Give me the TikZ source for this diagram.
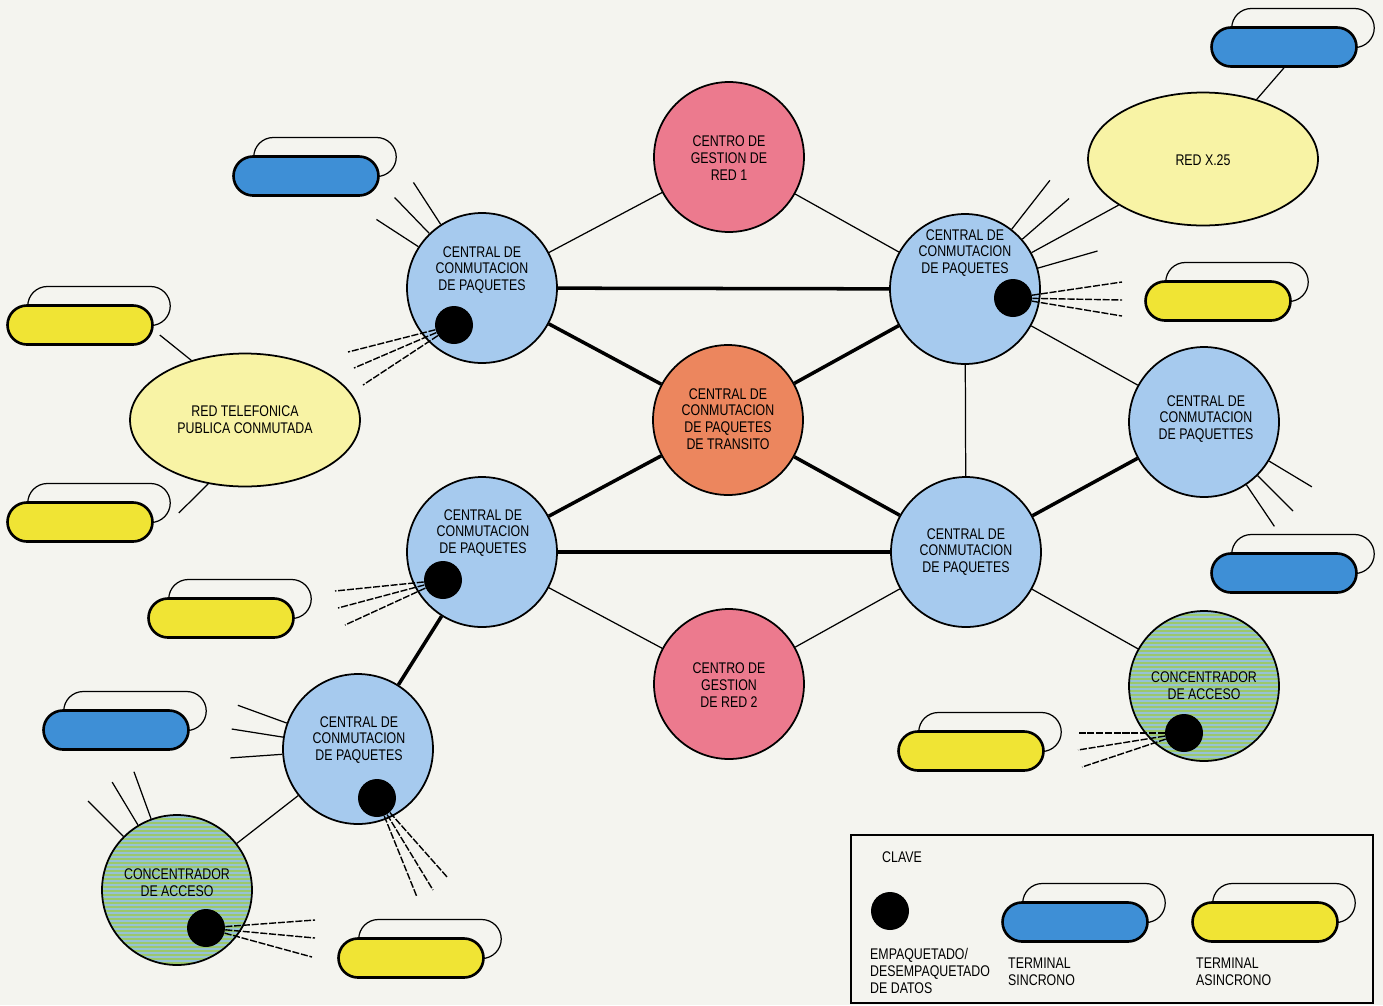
\documentclass[tikz,border=0pt]{standalone}
\usepackage{fontspec}
\setmainfont{Liberation Sans}[FakeStretch=0.8]
\usepackage{tikz}
\usetikzlibrary{shapes,positioning,calc}

\definecolor{fondo}{RGB}{244,244,239}
\definecolor{azulclaro}{RGB}{166,202,238}
\definecolor{rosa}{RGB}{236,122,142}
\definecolor{naranja}{RGB}{236,134,94}
\definecolor{amarillopal}{RGB}{248,243,165}
\definecolor{verdeazul}{RGB}{150,194,214}
\definecolor{verde}{RGB}{156,200,108}
\definecolor{azul}{RGB}{62,143,214}
\definecolor{amarillo}{RGB}{240,228,52}

\begin{document}
\begin{tikzpicture}[x=0.02cm,y=0.02cm,
    every node/.style={font=\fontsize{8.8}{9.6}\selectfont,align=center},
    nodo/.style={circle,draw,line width=1pt,minimum size=3cm,inner sep=0pt},
    central/.style={nodo,fill=azulclaro},
    gestion/.style={nodo,fill=rosa},
    transito/.style={nodo,fill=naranja},
    concentrador/.style={nodo,fill=verdeazul,
        path picture={\foreach \k in {0,...,40}
            \draw[verde,line width=1.1pt] ($(path picture bounding box.north west)+(0,-\k*4)$) -- ++(160,0);}},
    red/.style={ellipse,draw,line width=1pt,fill=amarillopal,minimum width=4.6cm,minimum height=2.66cm},
    pad/.style={circle,fill=black,minimum size=0.76cm,inner sep=0pt},
    term/.style={rounded rectangle,draw,line width=1.5pt,minimum width=2.9cm,minimum height=0.78cm,inner sep=0pt},
    termfondo/.style={rounded rectangle,draw,line width=0.7pt,fill=fondo,minimum width=2.85cm,minimum height=0.78cm,inner sep=0pt},
    enlace/.style={line width=0.7pt},
    troncal/.style={line width=2pt},
    ramal/.style={line width=0.7pt},
    ramald/.style={line width=0.8pt,dash pattern=on 4pt off 1pt}]

    \fill[fondo] (0,0) rectangle (1383,-1005);
    \useasboundingbox (0,0) rectangle (1383,-1005);

    % terminales: n / x / y / color
    \foreach \n/\x/\y/\c in {1/306/176/azul, 2/80/325/amarillo, 3/80/522/amarillo,
        4/221/618/amarillo, 5/116/730/azul, 6/411/958/amarillo, 7/1284/47/azul,
        8/1218/301/amarillo, 9/1284/573/azul, 10/971/751/amarillo,
        11/1075/922/azul, 12/1265/922/amarillo} {
        \node[termfondo] (tb\n) at (\x+19,-\y+19) {};
        \node[term,fill=\c] (t\n) at (\x,-\y) {};
    }

    % redes externas
    \node[red] (rtpc) at (245,-420) {};
    \node[red] (x25) at (1203,-159) {};

    % centrales
    \node[central] (ccpA) at (482,-288) {};
    \node[central] (ccpB) at (965,-289) {};
    \node[central] (ccpC) at (1204,-422) {};
    \node[central] (ccpD) at (482,-552) {};
    \node[central] (ccpE) at (966,-552) {};
    \node[central] (ccpF) at (358,-749) {};
    \node[transito] (trans) at (728,-420) {};
    \node[gestion] (gest1) at (729,-157) {};
    \node[gestion] (gest2) at (729,-684) {};
    \node[concentrador] (concA) at (177,-890) {};
    \node[concentrador] (concB) at (1204,-686) {};

    % empaquetadores
    \node[pad] (padA) at (454,-325) {};
    \node[pad] (padB) at (1013,-298) {};
    \node[pad] (padD) at (443,-580) {};
    \node[pad] (padF) at (377,-798) {};
    \node[pad] (padCA) at (206,-928) {};
    \node[pad] (padCB) at (1184,-733) {};
    \node[pad] (padL) at (890,-911) {};

    % textos
    \node (ccpAt) at (482,-270) {CENTRAL DE\\CONMUTACION\\DE PAQUETES};
    \node (ccpBt) at (965,-253) {CENTRAL DE\\CONMUTACION\\DE PAQUETES};
    \node (ccpCt) at (1206,-419) {CENTRAL DE\\CONMUTACION\\DE PAQUETTES};
    \node (ccpDt) at (483,-533) {CENTRAL DE\\CONMUTACION\\DE PAQUETES};
    \node (ccpEt) at (966,-552) {CENTRAL DE\\CONMUTACION\\DE PAQUETES};
    \node (ccpFt) at (359,-740) {CENTRAL DE\\CONMUTACION\\DE PAQUETES};
    \node (transt) at (728,-419) {CENTRAL DE\\CONMUTACION\\DE PAQUETES\\DE TRANSITO};
    \node (gest1t) at (729,-158) {CENTRO DE\\GESTION DE\\RED 1};
    \node (gest2t) at (729,-685) {CENTRO DE\\GESTION\\DE RED 2};
    \node (concAt) at (177,-883) {CONCENTRADOR\\DE ACCESO};
    \node (concBt) at (1204,-686) {CONCENTRADOR\\DE ACCESO};
    \node (rtpct) at (245,-420) {RED TELEFONICA\\PUBLICA CONMUTADA};
    \node (x25t) at (1203,-160) {RED X.25};

    % enlaces troncales
    \draw[troncal] (ccpA) -- (ccpB);
    \draw[troncal] (ccpA) -- (trans);
    \draw[troncal] (ccpB) -- (trans);
    \draw[troncal] (trans) -- (ccpD);
    \draw[troncal] (trans) -- (ccpE);
    \draw[troncal] (ccpD) -- (ccpE);
    \draw[troncal] (ccpE) -- (ccpC);
    \draw[troncal] (ccpD) -- (ccpF);

    % enlaces finos
    \draw[enlace] (ccpA) -- (gest1);
    \draw[enlace] (gest1) -- (ccpB);
    \draw[enlace] (ccpB) -- (ccpE);
    \draw[enlace] (ccpB) -- (ccpC);
    \draw[enlace] (ccpD) -- (gest2);
    \draw[enlace] (gest2) -- (ccpE);
    \draw[enlace] (ccpE) -- (concB);
    \draw[enlace] (ccpF) -- (concA);
    \draw[enlace] (ccpB) -- (x25);
    \draw[enlace] (x25.48) -- (t7.south);
    \draw[enlace] (rtpc.132) -- ([shift={(6,-10)}]t2.east);
    \draw[enlace] (rtpc.240) -- ([shift={(25,9)}]t3.east);

    % lineas de terminales
    \foreach \a in {147,134,123} \draw[ramal] (ccpA.\a) -- ++(\a:50);
    \foreach \a in {52,41,16} \draw[ramal] (ccpB.\a) -- ++(\a:62);
    \foreach \a in {-31,-45,-56} \draw[ramal] (ccpC.\a) -- ++(\a:50);
    \foreach \a in {160,171,184} \draw[ramal] (ccpF.\a) -- ++(\a:52);
    \foreach \a in {135,121,110} \draw[ramal] (concA.\a) -- ++(\a:50);

    \foreach \x/\y in {348/352,354/368,363/385} \draw[ramald] (padA) -- (\x,-\y);
    \foreach \x/\y in {1122/282,1122/300,1122/316} \draw[ramald] (padB) -- (\x,-\y);
    \foreach \x/\y in {335/591,338/608,345/625} \draw[ramald] (padD) -- (\x,-\y);
    \foreach \x/\y in {417/897,433/890,448/878} \draw[ramald] (padF) -- (\x,-\y);
    \foreach \x/\y in {315/920,315/938,312/957} \draw[ramald] (padCA) -- (\x,-\y);
    \foreach \x/\y in {1077/733,1078/750,1082/767} \draw[ramald] (padCB) -- (\x,-\y);

    % clave
    \draw[line width=0.8pt] (851,-835) rectangle (1373,-1003);
    \node[anchor=west] (clave) at (876,-857) {CLAVE};
    \node[anchor=north west,align=left] (clavepad) at (864,-942) {EMPAQUETADO/\\DESEMPAQUETADO\\DE DATOS};
    \node[anchor=north west,align=left] (clavesin) at (1002,-952) {TERMINAL\\SINCRONO};
    \node[anchor=north west,align=left] (claveasin) at (1190,-952) {TERMINAL\\ASINCRONO};
\end{tikzpicture}
\end{document}
